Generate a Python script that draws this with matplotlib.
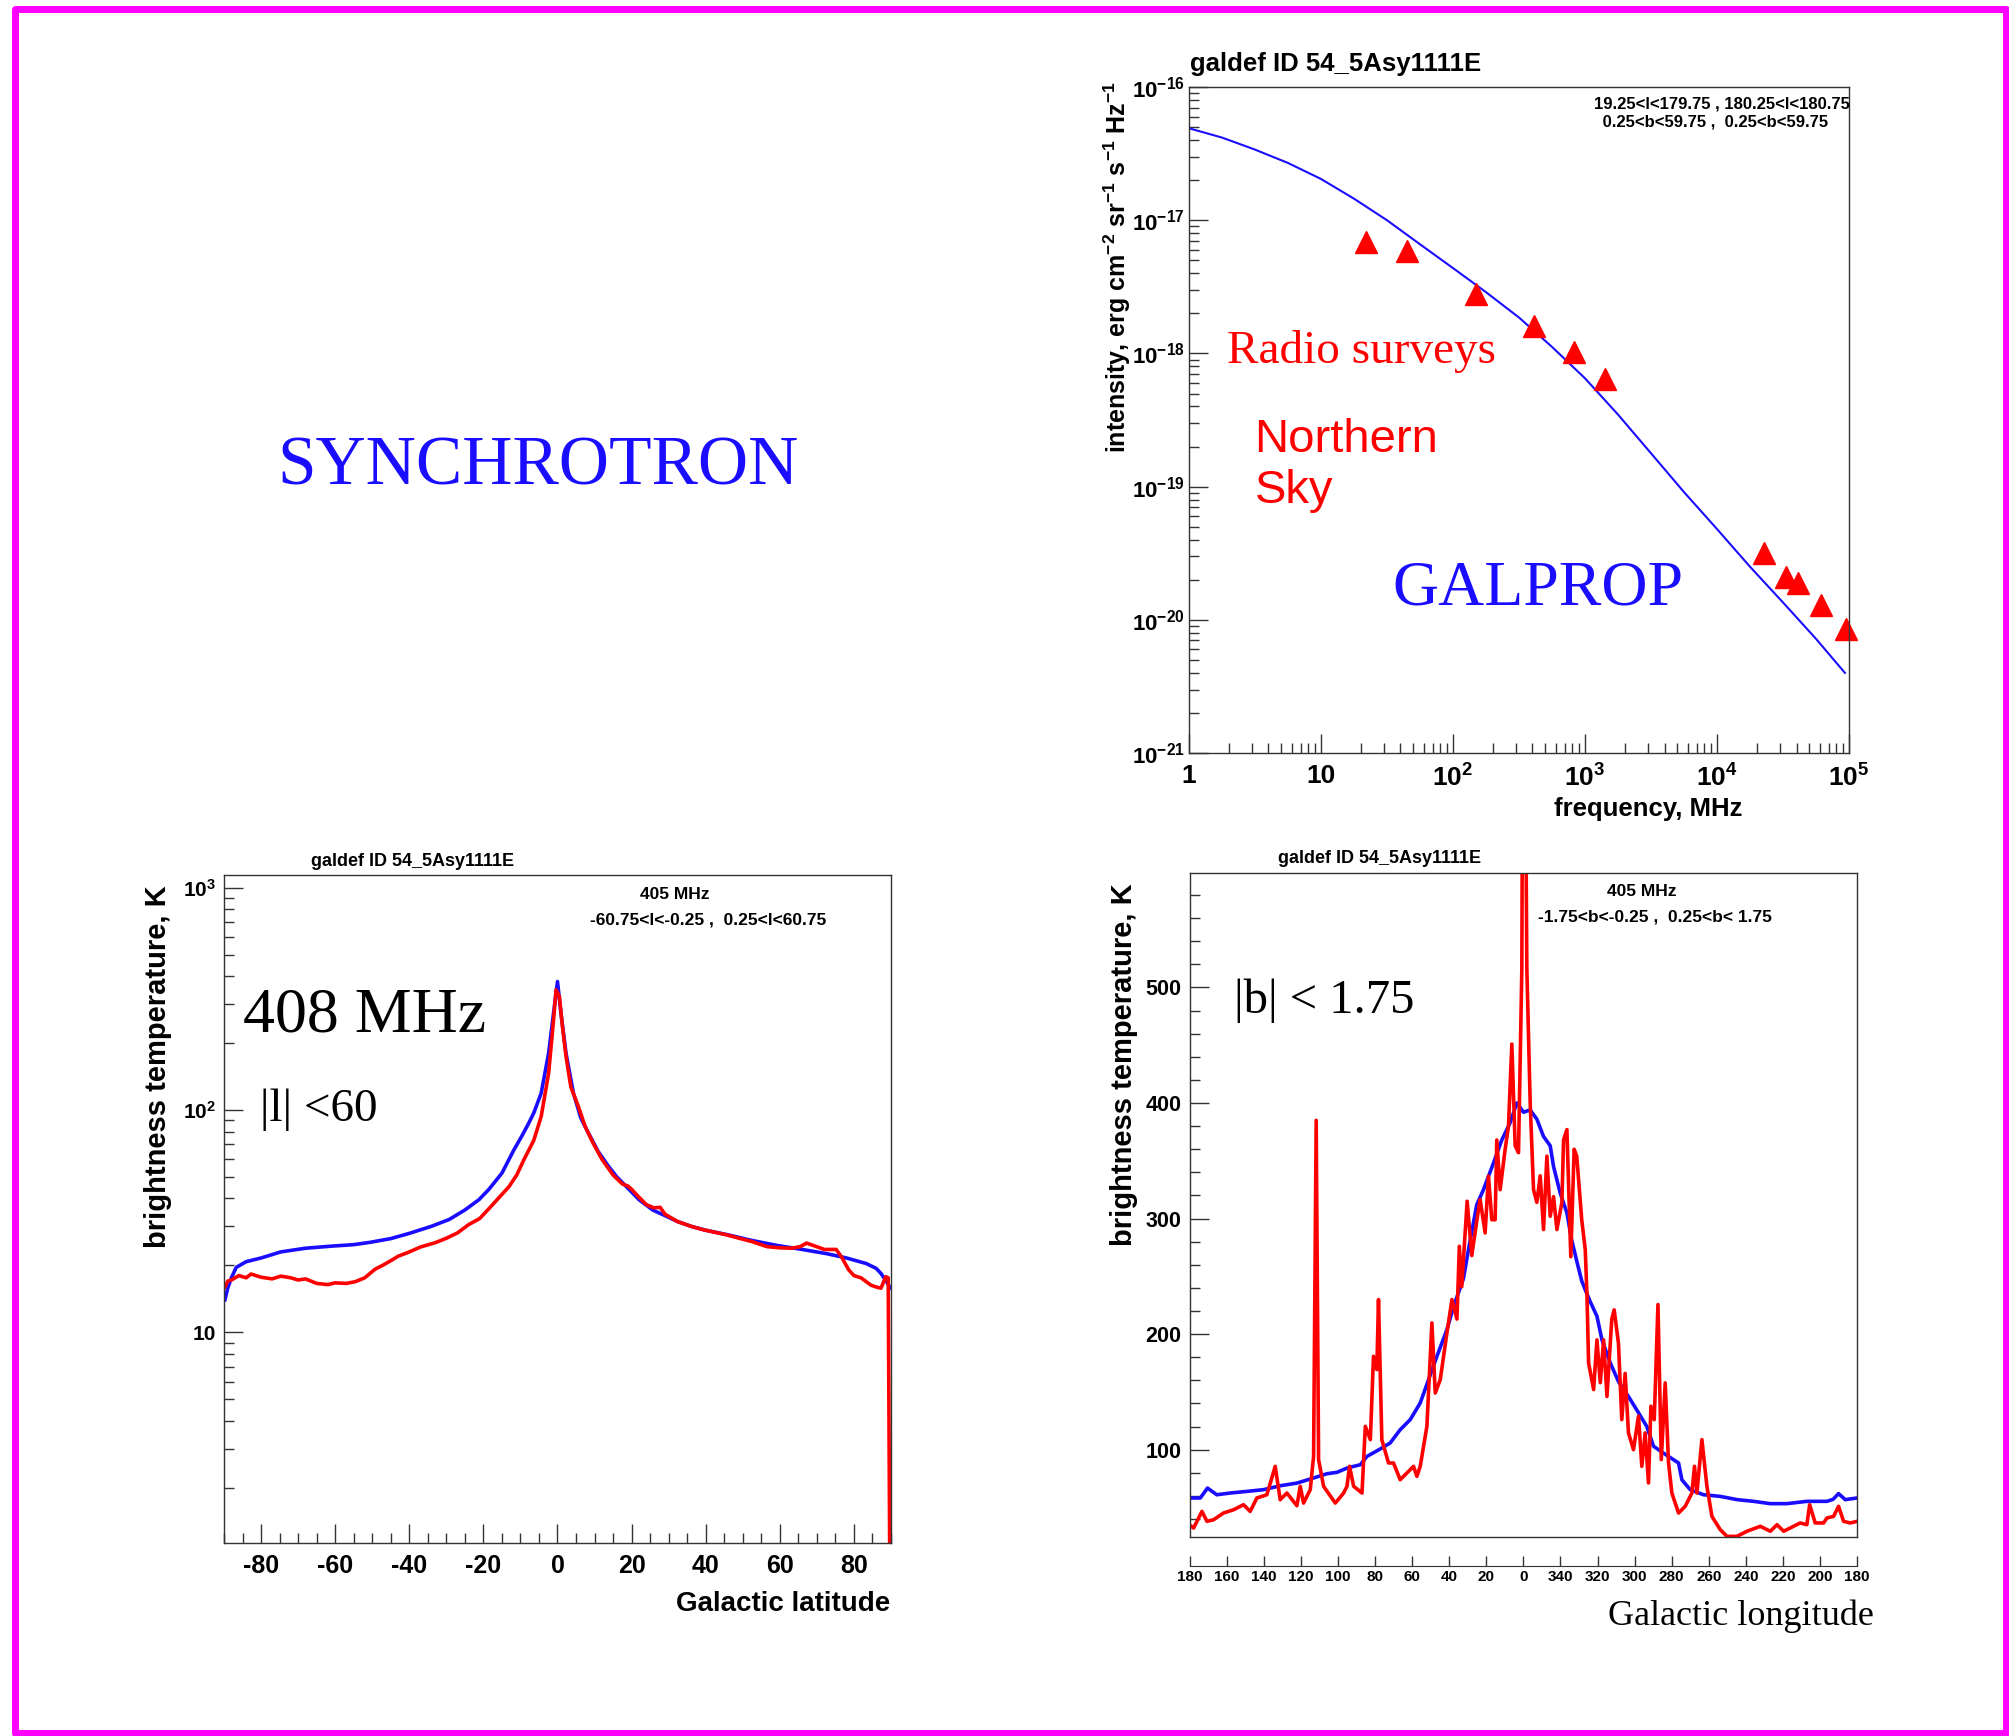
import matplotlib
matplotlib.use('Agg')
import matplotlib.pyplot as plt
from matplotlib.patches import Rectangle
from matplotlib.ticker import LogLocator, MultipleLocator, NullFormatter

plt.rcParams['font.family'] = ['Liberation Sans', 'DejaVu Sans']
plt.rcParams['font.weight'] = 'bold'
plt.rcParams['mathtext.fontset'] = 'custom'
plt.rcParams['mathtext.rm'] = 'Liberation Sans:bold'
plt.rcParams['mathtext.it'] = 'Liberation Sans:bold'
plt.rcParams['mathtext.bf'] = 'Liberation Sans:bold'

SERIF = ['Liberation Serif', 'DejaVu Serif']
TITLE = 'galdef ID 54_5Asy1111E'

# spectrum: GALPROP model and radio surveys (MHz, erg cm^-2 sr^-1 s^-1 Hz^-1)
freq_model = [1, 1.78, 3.16, 5.62, 10, 17.8, 31.6, 56.2, 100, 178, 316, 562,
              1000, 1780, 3160, 5620, 1e4, 1.78e4, 3.16e4, 5.62e4, 9.3e4]
int_model = [4.9e-17, 4.17e-17, 3.39e-17, 2.69e-17, 2.04e-17, 1.45e-17, 1.0e-17,
             6.6e-18, 4.37e-18, 2.88e-18, 1.86e-18, 1.12e-18, 6.5e-19, 3.47e-19,
             1.78e-19, 9.1e-20, 4.8e-20, 2.5e-20, 1.35e-20, 7.2e-21, 4.0e-21]
freq_survey = [22, 45, 150, 408, 820, 1420, 22800, 33000, 41000, 61000, 94000]
int_survey = [6.9e-18, 5.9e-18, 2.8e-18, 1.6e-18, 1.02e-18, 6.4e-19,
              3.2e-20, 2.1e-20, 1.9e-20, 1.3e-20, 8.5e-21]
freq_ticks = [1, 10, 100, 1e3, 1e4, 1e5]
freq_labels = ['1', '10', '$10^{2}$', '$10^{3}$', '$10^{4}$', '$10^{5}$']
int_ticks = [1e-21, 1e-20, 1e-19, 1e-18, 1e-17, 1e-16]
int_labels = ['$10^{-21}$', '$10^{-20}$', '$10^{-19}$', '$10^{-18}$', '$10^{-17}$', '$10^{-16}$']

# latitude profile 408 MHz, |l|<60
lat_model = [-89.75, -89.0, -88.0, -86.7, -84.0, -80.0, -74.7, -68.0, -61.3, -55.0,
             -50.6, -45.0, -39.9, -34.0, -29.2, -25.0, -21.2, -18.5, -15.0, -11.8,
             -9.5, -7.8, -6.4, -4.4, -2.4, -1.07, 0.0, 0.94, 2.3, 4.3, 6.3, 8.3,
             11.0, 13.7, 16.0, 19.0, 22.0, 25.7, 29.0, 32.4, 36.0, 40.0, 45.8, 52.0,
             59.2, 66.0, 72.6, 78.0, 83.3, 86.0, 87.3, 88.5, 89.3, 89.75]
tb_lat_model = [14.0, 15.8, 17.6, 19.6, 20.8, 21.6, 23.0, 23.9, 24.4, 24.8, 25.4,
                26.4, 27.9, 30.0, 32.2, 35.5, 39.5, 44.0, 52.0, 66.0, 77.0, 87.0,
                97.0, 119.0, 180.0, 272.0, 378.0, 272.0, 180.0, 119.0, 92.0, 79.0,
                65.0, 56.0, 50.0, 44.5, 39.5, 35.5, 33.5, 31.5, 30.0, 28.8, 27.5,
                26.0, 24.6, 23.6, 22.6, 21.6, 20.4, 19.4, 18.4, 17.2, 16.4, 15.8]
lat_data = [-89.75, -89.0, -88.0, -86.0, -84.0, -82.7, -80.0, -77.0, -74.7, -72.0,
            -70.0, -68.0, -65.0, -62.0, -60.0, -57.0, -54.6, -52.0, -49.3, -47.0,
            -45.2, -43.0, -40.0, -37.0, -33.0, -30.0, -27.0, -24.0, -21.0, -18.5,
            -16.0, -13.1, -11.0, -9.1, -6.4, -4.4, -2.4, -1.07, -0.4, 0.5, 1.34,
            2.3, 3.6, 5.6, 7.5, 9.6, 12.0, 15.0, 17.5, 19.0, 20.0, 22.0, 24.0,
            26.0, 27.7, 29.0, 32.4, 36.0, 39.1, 42.0, 45.8, 49.0, 52.5, 56.5,
            60.0, 63.2, 65.5, 67.2, 69.9, 72.0, 75.2, 76.6, 78.6, 80.0, 81.9,
            84.6, 86.0, 87.3, 88.6, 89.25, 89.75]
tb_lat_data = [16.0, 17.0, 17.2, 18.0, 17.6, 18.3, 17.7, 17.4, 17.9, 17.6, 17.2,
               17.4, 16.6, 16.4, 16.7, 16.6, 16.9, 17.6, 19.2, 20.1, 20.9, 22.0,
               23.0, 24.2, 25.3, 26.5, 28.0, 30.5, 32.5, 36.0, 40.0, 45.2, 51.0,
               59.6, 73.0, 93.6, 146.0, 254.0, 347.0, 324.0, 237.0, 174.0, 127.0,
               104.0, 84.0, 71.0, 60.0, 51.0, 46.5, 45.5, 44.0, 40.5, 37.5, 36.3,
               36.5, 34.0, 31.5, 30.0, 29.0, 28.3, 27.4, 26.5, 25.6, 24.3, 24.0,
               23.9, 24.3, 25.2, 24.3, 23.6, 23.6, 21.9, 19.1, 18.0, 17.6, 16.3,
               16.0, 15.8, 17.8, 17.6, 0.5]
lat_ticks = [-80, -60, -40, -20, 0, 20, 40, 60, 80]
lat_labels = ['-80', '-60', '-40', '-20', '0', '20', '40', '60', '80']
tb_log_ticks = [10, 100, 1000]
tb_log_labels = ['10', '$10^{2}$', '$10^{3}$']

# longitude profile, |b|<1.75 (negative longitude = 360 + l)
lon_model = [180, 174.2, 170.3, 165.3, 158.1, 149.1, 140.1, 131.1, 122.1, 113.1,
             105.9, 100.5, 95.1, 87.9, 84.3, 77.2, 71.8, 66.4, 61, 55.6, 51.1,
             46.6, 41.2, 37.6, 32.3, 29.6, 25.1, 21.5, 16.1, 11.6, 7.1, 3.5, -0.1,
             -3.7, -7.3, -10.9, -14.5, -16.3, -19.9, -23.5, -26, -29, -31.5, -34,
             -36.1, -39.7, -42.4, -46.9, -51.3, -56.7, -62.1, -66.6, -70.2, -75.6,
             -83.7, -85.5, -90, -97.2, -106.2, -115.2, -124.2, -133.2, -142.1,
             -152.9, -163.7, -167, -170, -173.6, -180]
tb_lon_model = [58.2, 58.2, 66.8, 61, 62.5, 63.9, 65.4, 68.8, 71.1, 75.5, 79.2,
                80.4, 84.1, 87, 94.2, 100.6, 105.8, 117.3, 126, 140.4, 160.6, 180.8,
                203.9, 224, 248, 273, 312, 325, 348, 368, 383, 400, 392, 394, 386,
                371, 363, 345, 322, 305, 282, 262, 246, 236, 228, 215.5, 195, 175,
                159, 146, 132, 120, 103, 97, 88.5, 74, 65.4, 61, 59.6, 56.8, 55.3,
                53.3, 53.3, 55.3, 55.3, 57, 62, 56.8, 58.2]
lon_data = [180, 177.8, 173.3, 170.6, 167, 161.7, 156.3, 150.9, 147.3, 143.7,
            138.3, 133.8, 131.1, 127.5, 122.1, 120.3, 118.5, 114.9, 113.1, 111.7,
            110.4, 107.7, 101.4, 96.9, 95.1, 93.7, 91.5, 87, 85.2, 82.5,
            80.8, 79, 78.1, 76.3, 72.7, 70, 66.4, 62.8, 59.2, 57.4,
            55.6, 52, 49.3, 47.5, 44.8, 41.2, 38.5, 35.8, 34.5, 33.2,
            30.3, 27.8, 25.1, 23.3, 20.6, 18.8, 17, 15.2, 14.3, 12.5,
            9.8, 8, 6.2, 4.4, 2.6, 0.8, -0.1, -1.9, -3.7, -5.5,
            -7.3, -9.1, -10.9, -12.7, -14.5, -16.3, -18.1, -20.8, -21.7, -23.5,
            -25.6, -27.4, -28.8, -31.5, -33.4, -34.3, -35.2, -37.9, -39.7, -41.5,
            -43.3, -45.1, -47.7, -49, -51.3, -53.1, -54.9, -56.7, -59.4, -62.1,
            -63.9, -65.7, -67.5, -68.8, -70.6, -72.6, -74.4, -76.5, -78.3, -80.1,
            -83.7, -87.3, -90.9, -92.3, -93.6, -96.3, -99, -101.7, -106.2, -109.8,
            -115.2, -120.6, -127.8, -133.2, -136.8, -140.4, -145.7, -149.3, -152.9, -154.4,
            -157.4, -161.9, -163.7, -167.3, -170, -172.7, -176.3, -180]
tb_lon_data = [35, 32.2, 46.6, 38, 39.4, 45.2, 48, 52.4, 46.6, 58.2,
               61, 85.6, 56.7, 62.5, 51.5, 68.3, 53.8, 65.4, 94.2, 385,
               91.3, 68.3, 53.8, 62.5, 68.3, 85.6, 68.3, 62.5, 120.2, 108.7,
               180.8, 169.3, 229.9, 108.7, 88.5, 88.5, 74, 79.8, 85.6, 76.9,
               85.6, 120.2, 209.7, 149, 160.6, 201, 229.9, 213, 276, 241,
               315, 268, 298, 316.5, 287.6, 336.7, 299, 299, 368, 325,
               360, 380, 451, 363, 357, 516, 950, 516, 400, 325,
               314, 337, 290.5, 354, 302, 319, 290.5, 314, 368, 377,
               267, 360, 354, 299, 273, 235, 175, 152, 195, 158,
               195, 146, 213, 221, 192, 126, 166, 114.5, 100, 129,
               85.6, 114.5, 71.2, 137.6, 126, 225.6, 91.4, 157.8, 88.5, 62.5,
               45.2, 51, 62.5, 85.6, 62.5, 108.7, 68.3, 42.3, 30.8, 25,
               25, 29.4, 33.7, 29.4, 35.1, 29.4, 33.7, 36.6, 35.1, 52.4,
               36.6, 36.6, 40.9, 42.3, 51, 38, 36.6, 38]
lon_ticks = [180, 160, 140, 120, 100, 80, 60, 40, 20, 0,
             -20, -40, -60, -80, -100, -120, -140, -160, -180]
lon_labels = ['180', '160', '140', '120', '100', '80', '60', '40', '20', '0',
              '340', '320', '300', '280', '260', '240', '220', '200', '180']
tb_lin_ticks = [100, 200, 300, 400, 500]
tb_lin_labels = ['100', '200', '300', '400', '500']

BLUE = '#1a0dff'
RED = '#ff0000'


def root_style(ax):
    for sp in ax.spines.values():
        sp.set_linewidth(1.0)
        sp.set_color('#333333')
    ax.tick_params(which='both', direction='in', top=False, right=False,
                   color='#333333', width=1.0)
    ax.tick_params(which='major', length=14)
    ax.tick_params(which='minor', length=7)


fig = plt.figure(figsize=(20.09, 17.36), dpi=100)

# ---- spectrum panel
ax1 = fig.add_axes([0.5918, 0.5662, 0.3286, 0.3837])
ax1.plot(freq_model, int_model, color=BLUE, lw=1.5)
ax1.plot(freq_survey, int_survey, ls='none', marker='^', ms=15.5, color=RED,
         clip_on=False)
ax1.set_xscale('log')
ax1.set_yscale('log')
ax1.set_xlim(1, 1e5)
ax1.set_ylim(1e-21, 1e-16)
ax1.set_xticks(freq_ticks, freq_labels)
ax1.set_yticks(int_ticks, int_labels)
ax1.xaxis.set_minor_locator(LogLocator(subs=range(2, 10)))
ax1.yaxis.set_minor_locator(LogLocator(subs=range(2, 10)))
ax1.xaxis.set_minor_formatter(NullFormatter())
ax1.yaxis.set_minor_formatter(NullFormatter())
root_style(ax1)
ax1.tick_params(axis='x', labelsize=19, pad=8)
ax1.tick_params(axis='y', labelsize=16, pad=3)

fig.text(0.5925, 0.963, TITLE, fontsize=18.5, ha='left', va='center')
fig.text(0.7932, 0.9402, '19.25<l<179.75 , 180.25<l<180.75', fontsize=12,
         ha='left', va='center')
fig.text(0.7952, 0.9299, ' 0.25<b<59.75 ,  0.25<b<59.75', fontsize=12,
         ha='left', va='center')
fig.text(0.556, 0.8461, 'intensity, erg cm$^{-2}$ sr$^{-1}$ s$^{-1}$ Hz$^{-1}$',
         fontsize=18, rotation=90, ha='center', va='center')
fig.text(0.8674, 0.5299, 'frequency, MHz', fontsize=18.5, ha='right', va='baseline')

fig.text(0.611, 0.7911, 'Radio surveys', family=SERIF, weight='normal',
         fontsize=34, color=RED, ha='left', va='baseline')
fig.text(0.6244, 0.7396, 'Northern', weight='normal', fontsize=34, color=RED,
         ha='left', va='baseline')
fig.text(0.6244, 0.7100, 'Sky', weight='normal', fontsize=34, color=RED,
         ha='left', va='baseline')
fig.text(0.7654, 0.6605, 'GALPROP', family=SERIF, weight='normal', fontsize=46,
         color=BLUE, ha='center', va='center')
fig.text(0.2678, 0.7304, 'SYNCHROTRON', family=SERIF, weight='normal', fontsize=50,
         color=BLUE, ha='center', va='center')

# ---- latitude panel
ax2 = fig.add_axes([0.1115, 0.1112, 0.3320, 0.3848])
ax2.plot(lat_model, tb_lat_model, color=BLUE, lw=2.6)
ax2.plot(lat_data, tb_lat_data, color=RED, lw=2.6)
ax2.set_yscale('log')
ax2.set_xlim(-90, 90)
ax2.set_ylim(1.13, 1140)
ax2.set_xticks(lat_ticks, lat_labels)
ax2.xaxis.set_minor_locator(MultipleLocator(5))
ax2.set_yticks(tb_log_ticks, tb_log_labels)
ax2.yaxis.set_minor_locator(LogLocator(subs=range(2, 10)))
ax2.yaxis.set_minor_formatter(NullFormatter())
root_style(ax2)
ax2.tick_params(axis='x', labelsize=18, pad=8)
ax2.tick_params(axis='y', labelsize=15, pad=6)

fig.text(0.1549, 0.504, TITLE, fontsize=13, ha='left', va='center')
fig.text(0.336, 0.485, '405 MHz', fontsize=12.5, ha='center', va='center')
fig.text(0.3524, 0.470, '-60.75<l<-0.25 ,  0.25<l<60.75', fontsize=12.5,
         ha='center', va='center')
fig.text(0.0785, 0.3856, 'brightness temperature, K', fontsize=21, rotation=90,
         ha='center', va='center')
fig.text(0.4433, 0.0722, 'Galactic latitude', fontsize=20, ha='right', va='baseline')
fig.text(0.1212, 0.4059, '408 MHz', family=SERIF, weight='normal', fontsize=46,
         ha='left', va='baseline')
fig.text(0.1294, 0.3542, '|l| <60', family=SERIF, weight='normal', fontsize=34,
         ha='left', va='baseline')

# ---- longitude panel
ax3 = fig.add_axes([0.5921, 0.1146, 0.3323, 0.3825])
ax3.plot(lon_model, tb_lon_model, color=BLUE, lw=2.6)
ax3.plot(lon_data, tb_lon_data, color=RED, lw=2.6)
ax3.set_xlim(180, -180)
ax3.set_ylim(24.4, 599)
ax3.set_yticks(tb_lin_ticks, tb_lin_labels)
ax3.yaxis.set_minor_locator(MultipleLocator(20))
root_style(ax3)
ax3.tick_params(axis='x', which='both', bottom=False, labelbottom=False)
ax3.tick_params(axis='y', labelsize=15.5, pad=6)

sec = ax3.secondary_xaxis(-0.0437)
sec.set_xticks(lon_ticks, lon_labels)
sec.tick_params(direction='in', length=7, width=1.0, color='#333333',
                labelsize=11, pad=3)
sec.spines['bottom'].set_color('#333333')

fig.text(0.6359, 0.5055, TITLE, fontsize=13, ha='left', va='center')
fig.text(0.8173, 0.4864, '405 MHz', fontsize=12.5, ha='center', va='center')
fig.text(0.8238, 0.4716, '-1.75<b<-0.25 ,  0.25<b< 1.75', fontsize=12.5,
         ha='center', va='center')
fig.text(0.5593, 0.3866, 'brightness temperature, K', fontsize=21, rotation=90,
         ha='center', va='center')
fig.text(0.9325, 0.0641, 'Galactic longitude', family=SERIF, weight='normal',
         fontsize=26, ha='right', va='baseline')
fig.text(0.6142, 0.4162, '|b| < 1.75', family=SERIF, weight='normal', fontsize=35,
         ha='left', va='baseline')

# magenta page frame
fig.patches.append(Rectangle((0.0077, 0.002), 0.9906, 0.9928, transform=fig.transFigure,
                             fill=False, edgecolor='#ff00ff', linewidth=5,
                             joinstyle='round'))

fig.savefig('out.png', dpi=100)
